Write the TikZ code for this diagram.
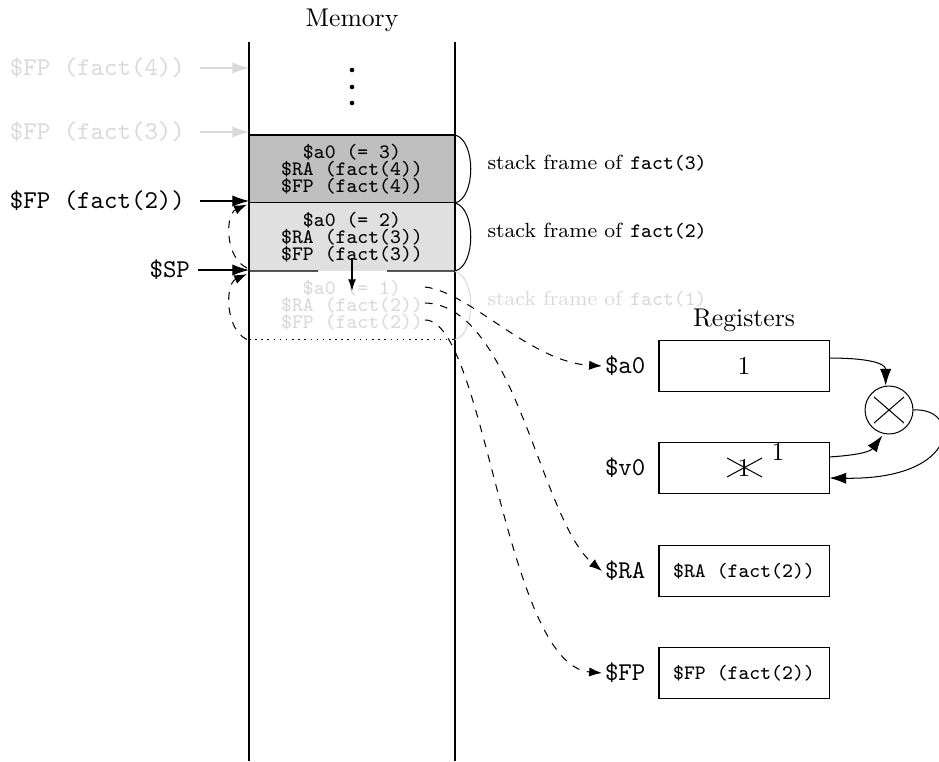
\documentclass[tikz,border=0pt]{standalone}
\usetikzlibrary{arrows.meta}
\definecolor{faded}{gray}{0.85}
\definecolor{fdark}{gray}{0.75}
\definecolor{flight}{gray}{0.88}
\begin{document}
\begin{tikzpicture}[x=0.39pt,y=-0.39pt,
  arr/.style={-{Latex[length=6.5pt,width=4.4pt]}},
  darr/.style={dashed,-{Latex[length=5pt,width=3.6pt]}},
  frametext/.style={font=\fontsize{8}{6.6}\selectfont\ttfamily, align=center, inner sep=0pt},
  framebox/.style={minimum width=80.34pt, minimum height=26.52pt, inner sep=0pt, outer sep=0pt},
  leftlab/.style={anchor=east, font=\ttfamily, inner sep=1pt},
  sflabel/.style={anchor=west, font=\footnotesize, inner sep=0pt},
  regbox/.style={draw, minimum width=66.3pt, minimum height=19.9pt, inner sep=0pt},
  reglab/.style={anchor=east, font=\ttfamily, inner sep=1pt, xshift=-3.9pt}]
\useasboundingbox (0,0) rectangle (939,761);

% memory column
\node (memlab) at (352,20) {Memory};
\coordinate (mTL) at (249,42);
\coordinate (mTR) at (455,42);
\coordinate (mBL) at (249,761);
\coordinate (mBR) at (455,761);

% frames
\node[framebox, draw, fill=fdark, frametext] (f3) at (352,169) {\$a0 (= 3)\\ \$RA (fact(4))\\ \$FP (fact(4))};
\node[framebox, fill=flight, frametext] (f2) at (352,237) {\$a0 (= 2)\\ \$RA (fact(3))\\ \$FP (fact(3))};
\node[framebox, frametext, text=faded] (f1) at (352,305.5) {\$a0 (= 1)\\ \$RA (fact(2))\\ \$FP (fact(2))};
\draw (mTL) -- (mBL);
\draw (mTR) -- (mBR);
\coordinate (g1) at (318,271);
\coordinate (g2) at (387,271);
\draw (f2.south west) -- (g1);
\draw (g2) -- (f2.south east);
\draw[line width=0.6pt, dash pattern=on 0.6pt off 1.8pt] (f1.south west) -- (f1.south east);

% dots
\fill (352,70) circle[radius=0.9pt];
\fill (352,87) circle[radius=0.9pt];
\fill (352,103) circle[radius=0.9pt];

% SP move arrow
\coordinate (spa) at (352,258);
\coordinate (spb) at (352,291);
\draw[-{Latex[length=4.5pt,width=3pt]}] (spa) -- (spb);

% braces on the right
\draw (f3.north east) .. controls +(21,5) and +(21,-5) .. (f3.south east);
\draw (f2.north east) .. controls +(21,5) and +(21,-5) .. (f2.south east);
\draw[faded] (f1.north east) .. controls +(21,5) and +(21,-5) .. (f1.south east);
\node[sflabel] (sf3) at (487,163) {stack frame of \texttt{fact(3)}};
\node[sflabel] (sf2) at (487,231) {stack frame of \texttt{fact(2)}};
\node[sflabel, text=faded] (sf1) at (487,299) {stack frame of \texttt{fact(1)}};

% left labels
\node[leftlab, text=faded] (lfp4) at (188,68) {\$FP (fact(4))};
\node[leftlab, text=faded] (lfp3) at (188,132) {\$FP (fact(3))};
\node[leftlab] (lfp2) at (188,201) {\$FP (fact(2))};
\node[leftlab] (lsp) at (193,270) {\$SP};
\draw[faded, arr] ([xshift=4.7pt]lfp4.east) -- (mTL |- lfp4.east);
\draw[faded, arr] ([xshift=4.7pt]lfp3.east) -- (mTL |- lfp3.east);
\draw[arr] ([xshift=4.7pt]lfp2.east) -- (mTL |- lfp2.east);
\draw[arr] ([xshift=2pt]lsp.east) -- (mTL |- lsp.east);

% saved FP dashed arcs
\draw[darr] ([xshift=-0.8pt,yshift=1.2pt]f2.south west) .. controls +(-22,-10) and +(-22,10) .. ([xshift=-0.8pt,yshift=-0.6pt]f2.north west);
\draw[darr] ([xshift=-0.8pt]f1.south west) .. controls +(-22,-10) and +(-22,10) .. ([xshift=-0.8pt,yshift=-1.2pt]f2.south west);

% registers
\node (reglab) at (744,320) {Registers};
\node[regbox] (ra0) at (744,366) {1};
\node[regbox] (rv0) at (744,468) {};
\node[regbox, font=\footnotesize\ttfamily] (rra) at (744,571) {\$RA (fact(2))};
\node[regbox, font=\footnotesize\ttfamily] (rfp) at (744,673) {\$FP (fact(2))};
\node[reglab] (la0) at (ra0.west) {\$a0};
\node[reglab] (lv0) at (rv0.west) {\$v0};
\node[reglab] (lra) at (rra.west) {\$RA};
\node[reglab] (lfp) at (rfp.west) {\$FP};

% crossed-out value in v0
\node[inner sep=0pt] (old1) at (rv0.center) {1};
\draw ([shift={(-17,-10)}]old1.center) -- ([shift={(18,9)}]old1.center);
\draw ([shift={(-17,9)}]old1.center) -- ([shift={(18,-10)}]old1.center);
\node[inner sep=0pt] (new1) at (778,452) {1};

% multiplier
\node[draw, circle, minimum size=18.7pt, inner sep=0pt] (mul) at (889,410) {};
\draw ([shift={(-15,-13)}]mul.center) -- ([shift={(15,13)}]mul.center);
\draw ([shift={(-15,13)}]mul.center) -- ([shift={(15,-13)}]mul.center);
\draw[arr] ([yshift=3.1pt]ra0.east) .. controls +(40,0) and +(0,-22) .. ([xshift=-1.3pt]mul.north);
\draw[arr] ([yshift=4.3pt]rv0.east) .. controls +(30,-2) and +(-12,16) .. ([xshift=-2.6pt,yshift=-0.4pt]mul.south);
\draw[arr] (mul.east) .. controls +(48,-3) and +(132,2) .. ([yshift=-3.9pt]rv0.east);

% dashed value transfers
\coordinate (s1) at (425,287);
\coordinate (s2) at (425,303);
\coordinate (s3) at (425,320);
\draw[darr] (s1) .. controls (470,292) and (530,362) .. (la0.west);
\draw[darr] (s2) .. controls (515,305) and (540,520) .. (lra.west);
\draw[darr] (s3) .. controls (485,320) and (505,665) .. (lfp.west);
\end{tikzpicture}
\end{document}
